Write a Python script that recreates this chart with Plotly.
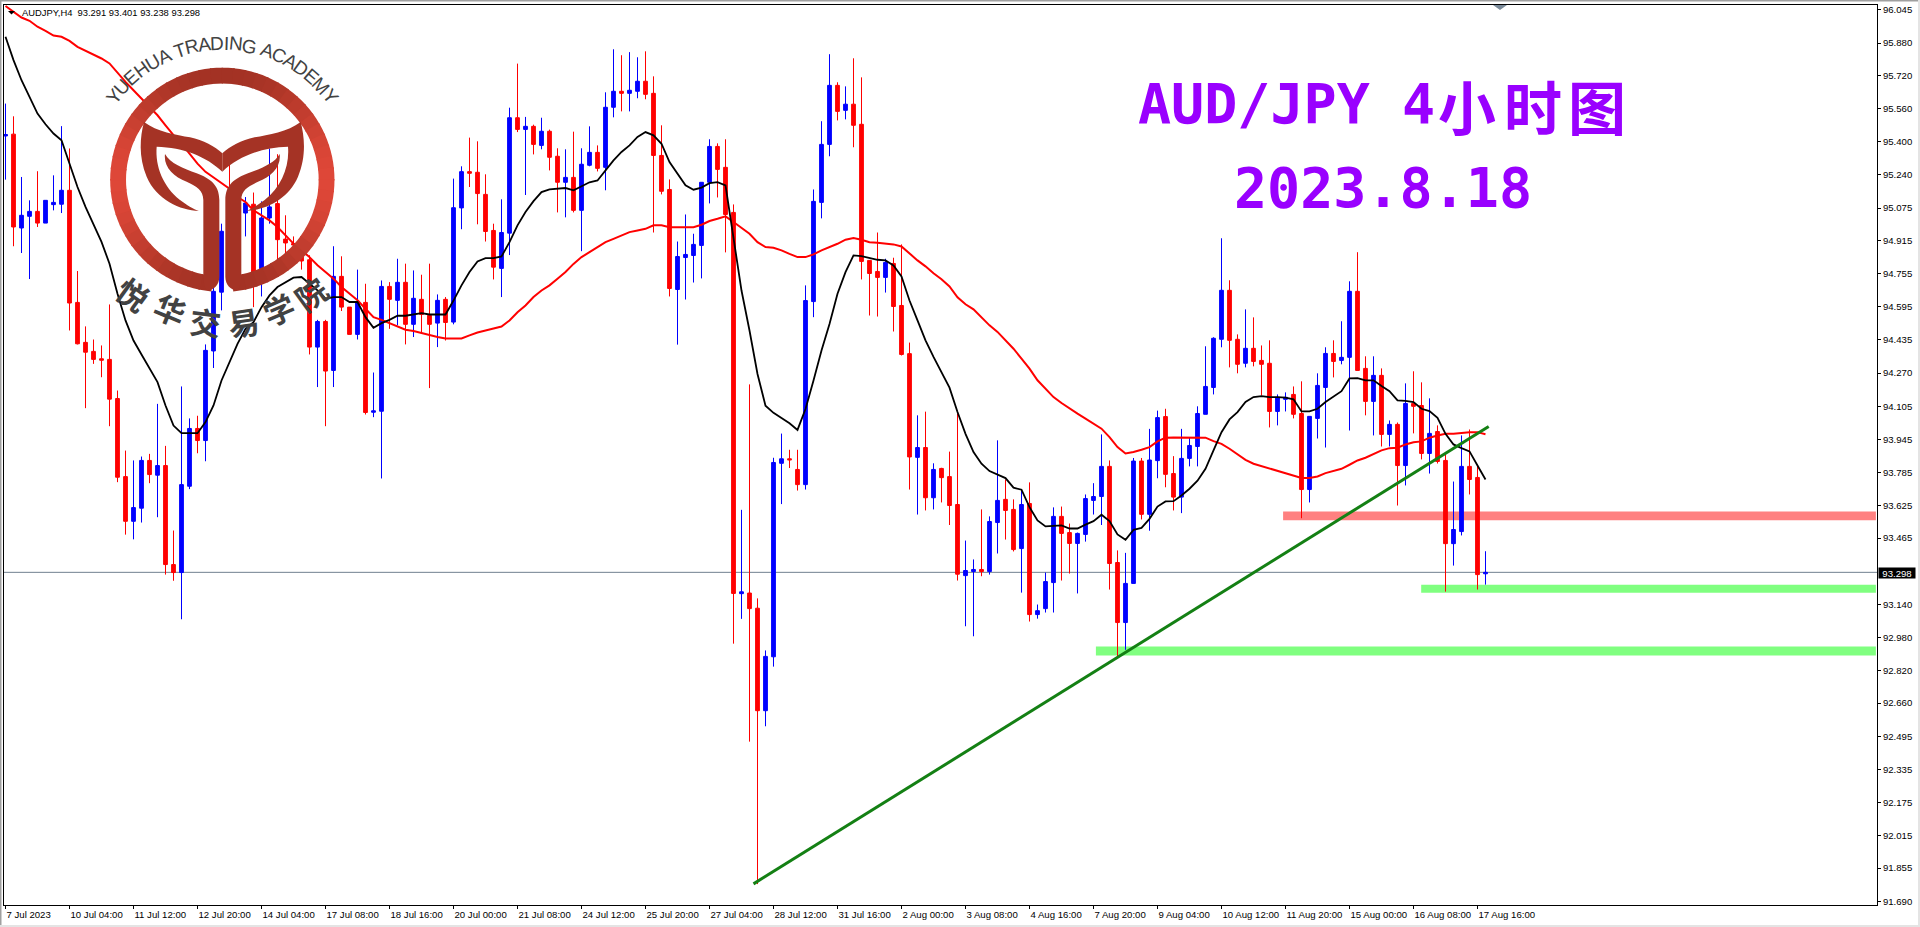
"""AUD/JPY 4 hour chart, MT4 look, with the academy logo over it."""
import math

import plotly.graph_objects as go

WIDTH, HEIGHT = 1920, 927
M_LEFT, M_RIGHT, M_TOP, M_BOTTOM = 4, 43, 5, 22

TICK_FONT = "Liberation Sans"
TICK_SIZE = 9.6
CJK_FONT = "Noto Sans CJK SC"
BLUE = "#0000ff"
RED = "#ff0000"
PURPLE = "#9900ff"
LOGO_DARK = (163, 50, 36)
LOGO_LIGHT = (222, 71, 56)
LOGO_TEXT = "#424242"

opens = [
    95.427, 95.436, 94.978, 95.035, 95.059, 95.002, 95.092, 95.094, 95.162, 94.615,
    94.420, 94.376, 94.340, 94.337, 94.146, 93.765, 93.547, 93.611, 93.844, 93.772,
    93.819, 93.336, 93.297, 93.718, 94.000, 93.941, 94.378, 94.665, 94.970, 94.850,
    95.051, 95.094, 94.779, 95.027, 95.097, 94.924, 94.902, 94.840, 94.823, 94.397,
    94.522, 94.283, 94.742, 94.592, 94.459, 94.615, 94.079, 94.084, 94.693, 94.625,
    94.713, 94.508, 94.630, 94.552, 94.514, 94.630, 94.519, 95.076, 95.253, 95.250,
    95.142, 94.966, 94.781, 94.953, 95.516, 95.459, 95.474, 95.381, 95.450, 95.328,
    95.201, 95.225, 95.064, 95.284, 95.347, 95.274, 95.567, 95.645, 95.635, 95.645,
    95.694, 95.635, 95.332, 95.166, 94.678, 94.834, 94.844, 94.893, 95.201, 95.376,
    95.274, 95.054, 93.194, 93.197, 93.123, 92.623, 92.886, 93.830, 93.852, 93.800,
    93.726, 94.619, 95.103, 95.386, 95.674, 95.552, 95.582, 95.484, 94.820, 94.766,
    94.737, 94.805, 94.600, 94.365, 93.859, 93.907, 93.662, 93.805, 93.765, 93.629,
    93.282, 93.302, 93.312, 93.302, 93.541, 93.654, 93.605, 93.414, 93.634, 93.092,
    93.121, 93.248, 93.571, 93.492, 93.439, 93.483, 93.649, 93.668, 93.815, 93.346,
    93.053, 93.244, 93.841, 93.581, 93.843, 94.058, 93.780, 93.665, 93.854, 93.912,
    94.069, 94.200, 94.435, 94.674, 94.435, 94.318, 94.391, 94.332, 94.318, 94.083,
    94.142, 94.166, 94.073, 93.702, 94.049, 94.200, 94.366, 94.332, 94.347, 94.669,
    94.293, 94.132, 94.259, 93.971, 94.020, 93.819, 94.122, 94.112, 93.878, 93.985,
    93.844, 93.438, 93.497, 93.815, 93.761, 93.291,
]
highs = [
    95.585, 95.523, 95.227, 95.113, 95.255, 95.113, 95.235, 95.475, 95.366, 94.768,
    94.498, 94.434, 94.405, 94.605, 94.185, 93.892, 93.844, 93.863, 93.876, 94.120,
    93.915, 93.502, 94.205, 94.049, 94.062, 94.410, 94.690, 94.999, 95.292, 95.080,
    95.129, 95.151, 95.108, 95.366, 95.338, 95.040, 94.937, 94.853, 94.845, 94.530,
    94.530, 94.889, 94.840, 94.592, 94.775, 94.706, 94.273, 94.722, 94.714, 94.828,
    94.804, 94.771, 94.750, 94.804, 94.654, 94.641, 95.219, 95.279, 95.419, 95.401,
    95.240, 94.999, 95.118, 95.565, 95.780, 95.520, 95.482, 95.516, 95.458, 95.367,
    95.362, 95.448, 95.367, 95.474, 95.381, 95.640, 95.850, 95.821, 95.836, 95.811,
    95.840, 95.718, 95.479, 95.215, 94.912, 95.044, 94.950, 95.201, 95.411, 95.391,
    95.411, 95.093, 93.603, 94.215, 93.171, 92.917, 93.857, 93.975, 93.896, 93.896,
    94.698, 95.166, 95.499, 95.826, 95.689, 95.669, 95.806, 95.713, 94.820, 94.956,
    94.828, 94.833, 94.898, 94.419, 94.064, 94.082, 93.830, 93.808, 93.887, 94.072,
    93.453, 93.361, 93.605, 93.571, 93.942, 93.751, 93.654, 93.701, 93.737, 93.141,
    93.297, 93.615, 93.619, 93.536, 93.492, 93.678, 93.733, 93.971, 93.844, 93.405,
    93.393, 93.856, 93.856, 93.998, 94.087, 94.096, 93.865, 93.998, 93.955, 94.108,
    94.401, 94.445, 94.928, 94.723, 94.459, 94.581, 94.542, 94.405, 94.430, 94.166,
    94.176, 94.205, 94.230, 94.059, 94.269, 94.396, 94.430, 94.523, 94.718, 94.860,
    94.352, 94.352, 94.293, 94.039, 94.029, 94.220, 94.279, 94.225, 94.147, 94.015,
    93.873, 93.741, 93.966, 93.995, 93.819, 93.401,
]
lows = [
    95.214, 94.889, 94.856, 94.729, 94.983, 95.002, 95.064, 95.051, 94.478, 94.410,
    94.099, 94.315, 94.250, 94.011, 93.738, 93.482, 93.459, 93.541, 93.733, 93.567,
    93.287, 93.257, 93.069, 93.704, 93.879, 93.840, 94.295, 94.576, 94.800, 94.800,
    94.937, 94.592, 94.644, 94.999, 94.820, 94.828, 94.836, 94.775, 94.361, 94.202,
    94.011, 94.202, 94.573, 94.459, 94.434, 94.068, 94.055, 93.756, 94.486, 94.503,
    94.410, 94.446, 94.467, 94.197, 94.397, 94.429, 94.508, 94.972, 95.178, 94.996,
    94.912, 94.727, 94.641, 94.846, 95.446, 95.139, 95.337, 95.362, 95.259, 95.054,
    95.030, 95.054, 94.865, 95.279, 95.254, 95.162, 95.518, 95.547, 95.547, 95.611,
    95.606, 94.956, 95.142, 94.644, 94.409, 94.629, 94.712, 94.732, 95.098, 95.127,
    94.859, 92.950, 93.071, 92.472, 91.777, 92.547, 92.838, 93.631, 93.807, 93.697,
    93.702, 94.543, 95.025, 95.328, 95.503, 95.508, 95.372, 94.727, 94.551, 94.546,
    94.663, 94.473, 94.356, 93.702, 93.580, 93.600, 93.605, 93.639, 93.529, 93.258,
    93.035, 92.986, 93.279, 93.287, 93.390, 93.458, 93.400, 93.199, 93.058, 93.072,
    93.102, 93.102, 93.258, 93.292, 93.195, 93.448, 93.580, 93.529, 93.214, 92.888,
    92.920, 93.244, 93.556, 93.501, 93.757, 93.713, 93.600, 93.587, 93.815, 93.815,
    94.069, 94.166, 94.396, 94.298, 94.269, 94.298, 94.303, 94.161, 94.005, 94.015,
    94.083, 94.049, 93.562, 93.639, 93.951, 93.907, 94.249, 94.313, 93.990, 94.283,
    94.064, 93.966, 93.912, 93.912, 93.624, 93.722, 93.976, 93.849, 93.780, 93.829,
    93.204, 93.331, 93.478, 93.678, 93.214, 93.238,
]
closes = [
    95.434, 94.983, 95.040, 95.059, 95.002, 95.113, 95.103, 95.162, 94.612, 94.413,
    94.372, 94.337, 94.333, 94.143, 93.762, 93.547, 93.614, 93.844, 93.775, 93.819,
    93.336, 93.297, 93.726, 94.000, 93.941, 94.381, 94.669, 94.962, 94.850, 95.050,
    95.100, 94.763, 95.027, 95.081, 94.921, 94.905, 94.895, 94.817, 94.397, 94.522,
    94.280, 94.742, 94.592, 94.459, 94.617, 94.078, 94.086, 94.693, 94.630, 94.713,
    94.508, 94.635, 94.556, 94.508, 94.625, 94.517, 95.077, 95.253, 95.245, 95.146,
    94.961, 94.787, 94.956, 95.516, 95.459, 95.474, 95.386, 95.450, 95.323, 95.201,
    95.225, 95.064, 95.289, 95.347, 95.269, 95.567, 95.645, 95.635, 95.650, 95.694,
    95.630, 95.332, 95.157, 94.683, 94.839, 94.849, 94.898, 95.201, 95.376, 95.264,
    95.044, 93.195, 93.203, 93.121, 92.623, 92.888, 93.834, 93.852, 93.847, 93.726,
    94.624, 95.108, 95.386, 95.674, 95.547, 95.582, 95.479, 94.815, 94.756, 94.737,
    94.810, 94.595, 94.361, 93.861, 93.907, 93.662, 93.800, 93.760, 93.624, 93.289,
    93.307, 93.312, 93.302, 93.546, 93.649, 93.600, 93.409, 93.629, 93.092, 93.111,
    93.253, 93.571, 93.488, 93.439, 93.488, 93.658, 93.668, 93.815, 93.341, 93.053,
    93.244, 93.841, 93.581, 93.846, 94.053, 93.776, 93.665, 93.854, 93.917, 94.073,
    94.205, 94.440, 94.674, 94.430, 94.313, 94.391, 94.327, 94.313, 94.083, 94.152,
    94.152, 94.069, 93.702, 94.059, 94.210, 94.366, 94.327, 94.347, 94.669, 94.283,
    94.132, 94.259, 93.971, 94.020, 93.819, 94.122, 94.108, 93.878, 93.976, 93.839,
    93.438, 93.507, 93.815, 93.751, 93.287, 93.298,
]
ma_fast = [
    95.911, 95.797, 95.699, 95.618, 95.536, 95.484, 95.439, 95.406, 95.292, 95.178,
    95.081, 94.991, 94.910, 94.804, 94.657, 94.527, 94.429, 94.361, 94.291, 94.226,
    94.112, 94.014, 93.977, 93.977, 93.977, 94.031, 94.112, 94.234, 94.324, 94.413,
    94.486, 94.519, 94.592, 94.649, 94.690, 94.714, 94.736, 94.739, 94.706, 94.674,
    94.633, 94.641, 94.641, 94.617, 94.617, 94.543, 94.491, 94.514, 94.530, 94.550,
    94.550, 94.556, 94.563, 94.556, 94.556, 94.556, 94.624, 94.698, 94.763, 94.815,
    94.831, 94.831, 94.839, 94.909, 94.991, 95.056, 95.109, 95.153, 95.166, 95.170,
    95.173, 95.162, 95.181, 95.201, 95.210, 95.259, 95.308, 95.349, 95.381, 95.422,
    95.446, 95.430, 95.389, 95.300, 95.243, 95.186, 95.165, 95.175, 95.197, 95.202,
    95.186, 94.917, 94.673, 94.478, 94.266, 94.111, 94.076, 94.051, 94.025, 93.993,
    94.095, 94.234, 94.380, 94.510, 94.657, 94.763, 94.844, 94.841, 94.831, 94.823,
    94.820, 94.795, 94.742, 94.624, 94.527, 94.430, 94.349, 94.275, 94.199, 94.080,
    93.974, 93.885, 93.828, 93.792, 93.774, 93.758, 93.711, 93.701, 93.616, 93.551,
    93.522, 93.525, 93.527, 93.512, 93.512, 93.531, 93.548, 93.579, 93.548, 93.483,
    93.457, 93.505, 93.515, 93.559, 93.619, 93.644, 93.645, 93.673, 93.706, 93.745,
    93.803, 93.893, 93.982, 94.044, 94.080, 94.129, 94.153, 94.158, 94.153, 94.153,
    94.150, 94.142, 94.083, 94.083, 94.096, 94.129, 94.156, 94.182, 94.244, 94.246,
    94.235, 94.235, 94.207, 94.182, 94.137, 94.135, 94.129, 94.096, 94.085, 94.052,
    93.974, 93.922, 93.904, 93.888, 93.819, 93.751,
]
ma_slow = [
    96.061, 96.033, 96.005, 95.989, 95.960, 95.940, 95.917, 95.911, 95.891, 95.862,
    95.843, 95.825, 95.805, 95.781, 95.735, 95.691, 95.650, 95.610, 95.569, 95.528,
    95.479, 95.431, 95.390, 95.341, 95.292, 95.252, 95.224, 95.195, 95.170, 95.129,
    95.105, 95.064, 95.040, 95.015, 94.983, 94.942, 94.902, 94.869, 94.836, 94.796,
    94.763, 94.731, 94.690, 94.657, 94.625, 94.584, 94.543, 94.530, 94.514, 94.498,
    94.482, 94.475, 94.465, 94.455, 94.446, 94.439, 94.439, 94.439, 94.454, 94.468,
    94.478, 94.486, 94.497, 94.527, 94.567, 94.600, 94.641, 94.673, 94.698, 94.730,
    94.763, 94.803, 94.836, 94.860, 94.885, 94.909, 94.925, 94.942, 94.958, 94.966,
    94.974, 94.991, 94.991, 94.982, 94.982, 94.982, 94.982, 94.994, 95.012, 95.023,
    95.035, 95.007, 94.979, 94.950, 94.909, 94.885, 94.882, 94.869, 94.852, 94.836,
    94.836, 94.849, 94.869, 94.885, 94.901, 94.921, 94.929, 94.921, 94.909, 94.906,
    94.901, 94.898, 94.888, 94.852, 94.820, 94.791, 94.757, 94.728, 94.693, 94.640,
    94.606, 94.581, 94.542, 94.503, 94.471, 94.430, 94.389, 94.341, 94.292, 94.235,
    94.194, 94.153, 94.124, 94.096, 94.072, 94.048, 94.023, 93.999, 93.958, 93.909,
    93.878, 93.885, 93.896, 93.909, 93.937, 93.955, 93.956, 93.956, 93.956, 93.958,
    93.955, 93.938, 93.925, 93.901, 93.876, 93.847, 93.828, 93.816, 93.803, 93.792,
    93.779, 93.767, 93.758, 93.758, 93.766, 93.782, 93.792, 93.803, 93.823, 93.844,
    93.857, 93.876, 93.893, 93.904, 93.906, 93.922, 93.933, 93.937, 93.955, 93.966,
    93.974, 93.974, 93.979, 93.981, 93.982, 93.972,
]

bar_index = list(range(len(closes)))

price_ticks = [
    96.045, 95.880, 95.720, 95.560, 95.400, 95.240, 95.075, 94.915, 94.755,
    94.595, 94.435, 94.270, 94.105, 93.945, 93.785, 93.625, 93.465, 93.140,
    92.980, 92.820, 92.660, 92.495, 92.335, 92.175, 92.015, 91.855, 91.690,
]
time_ticks = list(range(0, 185, 8))
time_labels = [
    "7 Jul 2023", "10 Jul 04:00", "11 Jul 12:00", "12 Jul 20:00", "14 Jul 04:00",
    "17 Jul 08:00", "18 Jul 16:00", "20 Jul 00:00", "21 Jul 08:00", "24 Jul 12:00",
    "25 Jul 20:00", "27 Jul 04:00", "28 Jul 12:00", "31 Jul 16:00", "2 Aug 00:00",
    "3 Aug 08:00", "4 Aug 16:00", "7 Aug 20:00", "9 Aug 04:00", "10 Aug 12:00",
    "11 Aug 20:00", "15 Aug 00:00", "16 Aug 08:00", "17 Aug 16:00",
]

last_price = 93.298
trend_x = [93.5, 185.4]
trend_y = [91.778, 94.010]
# zones: left bar, right bar, low price, high price, colour
zones = [
    (159.7, 233.8, 93.552, 93.595, "#ff8080"),
    (176.96, 233.8, 93.199, 93.238, "#80ff80"),
    (136.3, 233.8, 92.892, 92.936, "#80ff80"),
]

PLOT_W = WIDTH - M_LEFT - M_RIGHT
PLOT_H = HEIGHT - M_TOP - M_BOTTOM


def paper(px, py):
    """Screen pixel to paper fraction, for the overlay artwork."""
    return (px - M_LEFT) / PLOT_W, 1 - (py - M_TOP) / PLOT_H


def label(px, py, text, size, color="#000000", family=TICK_FONT, angle=0, anchor="center", **extra):
    x, y = paper(px, py)
    return dict(
        xref="paper", yref="paper", x=x, y=y, text=text, showarrow=False,
        xanchor=anchor, yanchor="middle", textangle=angle, borderpad=0,
        font=dict(family=family, size=size, color=color), **extra,
    )


def pixel_path(points):
    """points: first is the move-to, then cubic triples; coordinates in logo zoom units (3x)."""
    out = []
    for k, pt in enumerate(points):
        x, y = paper(pt[0] / 3, pt[1] / 3)
        if k == 0:
            out.append(f"M{x:.5f},{y:.5f}")
        elif (k - 1) % 3 == 0:
            out.append(f"C{x:.5f},{y:.5f}")
        else:
            out.append(f" {x:.5f},{y:.5f}")
    return "".join(out) + "Z"


def logo_color(t):
    vals = [round(a + (b - a) * t) for a, b in zip(LOGO_DARK, LOGO_LIGHT)]
    return f"rgb({vals[0]},{vals[1]},{vals[2]})"


def logo_shapes():
    cx, cy = 667, 539.5
    r_out, r_in = 336.5, 289
    shapes = []
    # ring, cut into small wedges so the red can lighten towards the sides
    step = 6
    for start in range(-174, 174, step):
        pts = []
        for a, r in [(start - 0.4, r_out), (start + step / 2, r_out), (start + step + 0.4, r_out),
                     (start + step + 0.4, r_in), (start + step / 2, r_in), (start - 0.4, r_in)]:
            rad = math.radians(a)
            x, y = paper((cx + r * math.sin(rad)) / 3, (cy - r * math.cos(rad)) / 3)
            pts.append(f"{x:.5f},{y:.5f}")
        mid = math.radians(start + step / 2)
        shapes.append(dict(
            type="path", xref="paper", yref="paper", layer="above", line_width=0,
            path="M" + "L".join(pts) + "Z", fillcolor=logo_color(abs(math.sin(mid)) ** 2.5),
        ))

    horn = [
        (432, 366), (470, 395), (530, 405), (570, 412), (610, 420), (645, 440), (667, 460),
        (667, 475), (667, 500), (667, 515), (620, 470), (550, 442), (470, 440),
        (465, 500), (490, 560), (540, 600), (560, 615), (580, 628), (597, 633),
        (540, 630), (470, 600), (440, 530), (415, 470), (420, 410), (432, 366),
    ]
    stem = [
        (495, 462), (510, 490), (550, 505), (590, 520), (630, 535), (658, 555), (658, 600),
        (658, 700), (658, 780), (658, 830), (658, 855), (640, 872), (620, 870),
        (612, 860), (610, 840), (610, 820), (610, 740), (610, 670), (610, 600),
        (610, 570), (590, 560), (560, 545), (520, 530), (490, 500), (495, 462),
    ]
    for part in (horn, stem):
        for mirror in (False, True):
            pts = [(2 * 667 - x, y) if mirror else (x, y) for x, y in part]
            shapes.append(dict(
                type="path", xref="paper", yref="paper", layer="above", line_width=0,
                path=pixel_path(pts), fillcolor=logo_color(0.04),
            ))
    return shapes


def logo_labels():
    cx, cy = 667 / 3, 539.5 / 3
    radius = 136.5
    word = "YUEHUA TRADING ACADEMY"
    advances = {"Y": .667, "U": .722, "E": .667, "H": .722, "A": .667, " ": .278, "T": .611,
                "R": .722, "D": .722, "I": .278, "N": .722, "G": .778, "C": .722, "M": .833}
    total = sum(advances[c] for c in word)
    span = 110.0
    out = []
    walked = 0.0
    for ch in word:
        step = advances[ch]
        if ch != " ":
            theta = -span / 2 + span * (walked + step / 2) / total
            rad = math.radians(theta)
            out.append(label(cx + radius * math.sin(rad), cy - radius * math.cos(rad), ch, 19,
                             color=LOGO_TEXT, angle=theta))
        walked += step
    # character, x, y, rotation for the Chinese name under the ring
    for ch, zx, zy, ang in [("悦", 400, 880, 36), ("华", 510, 925, 22), ("交", 615, 965, 7),
                            ("易", 730, 965, -8), ("学", 835, 925, -23), ("院", 930, 880, -36)]:
        out.append(label(zx / 3, zy / 3, f"<b>{ch}</b>", 31, color=LOGO_TEXT, family=CJK_FONT, angle=ang))
    return out


fig = go.Figure()
fig.add_trace(go.Candlestick(
    x=bar_index, open=opens, high=highs, low=lows, close=closes,
    increasing=dict(line=dict(color=BLUE, width=1), fillcolor=BLUE),
    decreasing=dict(line=dict(color=RED, width=1), fillcolor=RED),
    whiskerwidth=0, hoverinfo="skip",
))
fig.add_trace(go.Scatter(x=bar_index, y=ma_slow, mode="lines", line=dict(color=RED, width=2), hoverinfo="skip"))
fig.add_trace(go.Scatter(x=bar_index, y=ma_fast, mode="lines", line=dict(color="#000000", width=1.8), hoverinfo="skip"))
fig.add_trace(go.Scatter(x=trend_x, y=trend_y, mode="lines", line=dict(color="#148014", width=3), hoverinfo="skip"))

shapes = [
    dict(type="rect", xref="x", yref="y", layer="below", x0=x0, x1=x1, y0=y0, y1=y1,
         fillcolor=color, line_width=0)
    for x0, x1, y0, y1, color in zones
]
shapes.append(dict(type="line", xref="paper", yref="y", layer="below", x0=0, x1=1,
                   y0=last_price, y1=last_price, line=dict(color="#708090", width=1)))

# window frame of the terminal
for x0, y0, x1, y1, color in [(0, 0, 1920, 1.5, "#a0a0a0"), (0, 0, 1.5, 927, "#a0a0a0"),
                              (1918, 0, 1920, 927, "#e4e4e4"), (0, 925, 1920, 927, "#e4e4e4")]:
    ax, ay = paper(x0, y0)
    bx, by = paper(x1, y1)
    shapes.append(dict(type="rect", xref="paper", yref="paper", layer="above", x0=ax, x1=bx, y0=ay, y1=by,
                       fillcolor=color, line_width=0))

# small marker triangles: chart menu at top left, chart shift at the top
for pts, color in [([(8, 11), (15, 11), (11.5, 14.5)], "#000000"),
                   ([(1493, 5), (1507, 5), (1500, 10)], "#7a8a99")]:
    coords = [paper(*p) for p in pts]
    shapes.append(dict(type="path", xref="paper", yref="paper", layer="above", line_width=0, fillcolor=color,
                       path="M" + "L".join(f"{x:.5f},{y:.5f}" for x, y in coords) + "Z"))

shapes.extend(logo_shapes())

annotations = [
    label(20.5, 12.5, "AUDJPY,H4  93.291 93.401 93.238 93.298", 9.4, anchor="left"),
    label(1254, 104, "<b>AUD/JPY</b>", 55, color=PURPLE, family="DejaVu Sans Mono"),
    label(1418, 104, "<b>4</b>", 55, color=PURPLE, family="DejaVu Sans Mono"),
    label(1467, 105, "<b>小</b>", 58, color=PURPLE, family=CJK_FONT),
    label(1533, 105, "<b>时</b>", 58, color=PURPLE, family=CJK_FONT),
    label(1597, 105, "<b>图</b>", 58, color=PURPLE, family=CJK_FONT),
    label(1383, 188, "<b>2023.8.18</b>", 55, color=PURPLE, family="DejaVu Sans Mono"),
    label(1897, 572.5, "93.298", TICK_SIZE, color="#ffffff", bgcolor="#000000", width=36, height=10),
]
annotations.extend(logo_labels())

fig.update_layout(
    width=WIDTH, height=HEIGHT, margin=dict(l=M_LEFT, r=M_RIGHT, t=M_TOP, b=M_BOTTOM, autoexpand=False),
    paper_bgcolor="#ffffff", plot_bgcolor="#ffffff", showlegend=False, hovermode=False,
    boxgap=0.33, shapes=shapes, annotations=annotations,
    font=dict(family=TICK_FONT, size=TICK_SIZE, color="#000000"),
)
fig.update_xaxes(
    range=[-0.1875, 233.9375], rangeslider_visible=False, showgrid=False, zeroline=False,
    showline=True, mirror=True, linecolor="#000000", linewidth=1, automargin=False,
    tickmode="array", tickvals=time_ticks, ticktext=time_labels, ticks="outside", ticklen=3, tickangle=0,
    tickcolor="#000000", ticklabelposition="outside right", tickfont=dict(family=TICK_FONT, size=TICK_SIZE),
    fixedrange=True,
)
fig.update_yaxes(
    range=[91.675, 96.066], side="right", showgrid=False, zeroline=False,
    showline=True, mirror=True, linecolor="#000000", linewidth=1, automargin=False,
    tickmode="array", tickvals=price_ticks, ticktext=[f"{v:.3f}" for v in price_ticks],
    ticks="outside", ticklen=3, tickcolor="#000000", tickfont=dict(family=TICK_FONT, size=TICK_SIZE),
    fixedrange=True,
)

fig.write_html(
    "out.html",
    config={"displayModeBar": False},
    post_script="document.body.style.margin='0';document.body.style.overflow='hidden';",
)
